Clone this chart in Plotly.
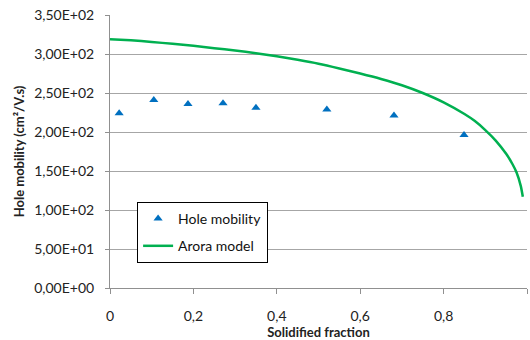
import plotly.graph_objects as go

# Measured data (triangles)
frac_meas = [0.022, 0.105, 0.187, 0.271, 0.350, 0.520, 0.681, 0.849]
mob_meas = [224, 241, 236, 237, 231, 229, 221, 196]

# Arora model curve
frac_model = [0.0, 0.05, 0.1, 0.15, 0.2, 0.25, 0.3, 0.35, 0.4, 0.45, 0.5, 0.55, 0.6, 0.65,
              0.7, 0.75, 0.8, 0.85, 0.875, 0.9, 0.925, 0.95, 0.965, 0.975, 0.985, 0.99]
mob_model = [319, 317.5, 315.5, 313, 310.5, 307.5, 304.5, 301, 297, 292.5, 287.5, 281.5, 275, 268,
             260, 250, 238, 223, 214, 202.5, 189, 172, 159, 148, 131, 117]

y_tickvals = [0, 50, 100, 150, 200, 250, 300, 350]
y_ticktext = ["0,00E+00", "5,00E+01", "1,00E+02", "1,50E+02", "2,00E+02", "2,50E+02", "3,00E+02", "3,50E+02"]
x_tickvals = [0, 0.2, 0.4, 0.6, 0.8, 1.0]
x_ticktext = ["0", "0,2", "0,4", "0,6", "0,8", "1"]

font = "Lato, Open Sans, sans-serif"

fig = go.Figure()
fig.add_trace(go.Scatter(
    x=frac_meas, y=mob_meas, mode="markers", name="Hole mobility",
    marker=dict(symbol="triangle-up", size=8, color="#0070C0"),
    legendgroup="a",
))
fig.add_trace(go.Scatter(
    x=frac_model, y=mob_model, mode="lines", name="Arora model",
    line=dict(color="#00B050", width=2.5, shape="spline", smoothing=0.6),
    legendgroup="b",
))

fig.update_layout(
    width=530, height=340,
    margin=dict(l=110, r=3, t=15, b=52),
    paper_bgcolor="white", plot_bgcolor="white",
    font=dict(family=font, size=14, color="#222222"),
    showlegend=True,
    legend=dict(
        x=0.065, y=0.315, xanchor="left", yanchor="top",
        bordercolor="black", borderwidth=1, bgcolor="white",
        font=dict(family=font, size=14, color="#111111"),
        tracegroupgap=6,
    ),
)
fig.update_xaxes(
    range=[0, 1], tickvals=x_tickvals, ticktext=x_ticktext,
    showgrid=False, zeroline=False,
    showline=True, linecolor="#909090", linewidth=1,
    ticks="outside", ticklen=5, tickcolor="#909090", ticklabelstandoff=10,
    title=dict(text="<b>Solidified fraction</b>", font=dict(family=font, size=13), standoff=2),
)
fig.update_yaxes(
    range=[0, 350], tickvals=y_tickvals, ticktext=y_ticktext,
    showgrid=True, gridcolor="#a6a6a6", gridwidth=1, zeroline=False,
    showline=True, linecolor="#909090", linewidth=1,
    ticks="outside", ticklen=4, tickcolor="#909090", ticklabelstandoff=8,
    title=dict(text="<b>Hole mobility (cm²/V.s)</b>", font=dict(family=font, size=13), standoff=6),
)

fig.write_html("out.html")
